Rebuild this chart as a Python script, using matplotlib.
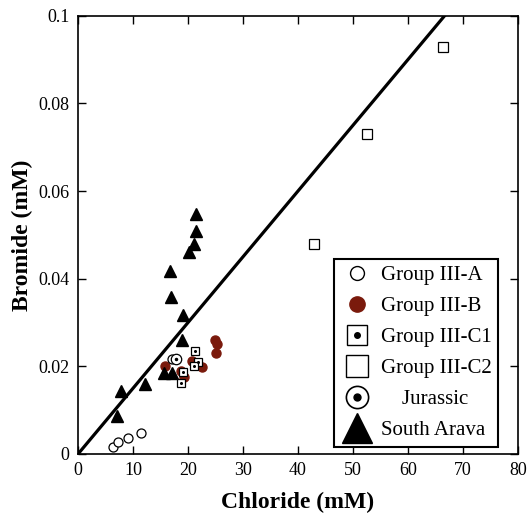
import matplotlib
matplotlib.use("Agg")
import matplotlib.pyplot as plt
from matplotlib.lines import Line2D

plt.rcParams['font.family'] = ['Liberation Serif', 'DejaVu Serif']

# Data (chloride mM, bromide mM)
grpA_x = [6.4, 7.3, 9.0, 11.4, 17.1]
grpA_y = [0.0016, 0.0027, 0.0037, 0.0048, 0.0217]

grpB_x = [24.9, 25.2, 25.1, 15.8, 20.8, 22.5, 18.8, 19.2]
grpB_y = [0.0261, 0.0251, 0.0230, 0.0200, 0.0211, 0.0198, 0.0190, 0.0175]

grpC1_x = [21.3, 21.8, 21.1, 19.0, 18.7]
grpC1_y = [0.0236, 0.0209, 0.0200, 0.0187, 0.0162]

grpC2_x = [42.9, 52.5, 66.4]
grpC2_y = [0.0479, 0.0729, 0.0928]

jur_x = [17.8]
jur_y = [0.0217]

arava_x = [21.4, 21.4, 21.1, 20.2, 16.7, 16.9, 19.0, 18.9, 15.7, 17.0, 12.2, 7.8, 7.0]
arava_y = [0.0547, 0.0509, 0.0479, 0.0460, 0.0418, 0.0359, 0.0317, 0.0259,
           0.0185, 0.0185, 0.0160, 0.0144, 0.0086]

line_x = [0, 80]
seawater_ratio = 0.0015

xticks = [0, 10, 20, 30, 40, 50, 60, 70, 80]
xticklabels = ['0', '10', '20', '30', '40', '50', '60', '70', '80']
yticks = [0, 0.02, 0.04, 0.06, 0.08, 0.1]
yticklabels = ['0', '0.02', '0.04', '0.06', '0.08', '0.1']

red = '#7a1a0c'

fig = plt.figure(figsize=(5.31, 5.16), dpi=100)
ax = fig.add_axes([0.147, 0.1202, 0.8285, 0.8494])

ax.plot(line_x, [v * seawater_ratio for v in line_x], color='black', lw=2.3, zorder=1)

ax.plot(grpA_x, grpA_y, ls='none', marker='o', ms=6.5, mfc='white', mec='black', mew=0.9, zorder=3)
ax.plot(grpB_x, grpB_y, ls='none', marker='o', ms=6.5, mfc=red, mec=red, zorder=2)
ax.plot(grpC1_x, grpC1_y, ls='none', marker='s', ms=5.5, mfc='white', mec='black', mew=0.9, zorder=4)
ax.plot(grpC1_x, grpC1_y, ls='none', marker='o', ms=1.2, mfc='black', mec='black', zorder=5)
ax.plot(grpC2_x, grpC2_y, ls='none', marker='s', ms=7.5, mfc='white', mec='black', mew=0.9, zorder=4)
ax.plot(jur_x, jur_y, ls='none', marker='o', ms=7.5, mfc='white', mec='black', mew=0.9, zorder=4)
ax.plot(jur_x, jur_y, ls='none', marker='o', ms=1.5, mfc='black', mec='black', zorder=5)
ax.plot(arava_x, arava_y, ls='none', marker='^', ms=9, mfc='black', mec='black', zorder=3)

ax.set_xlim(0, 80)
ax.set_ylim(0, 0.1)
ax.set_xticks(xticks)
ax.set_xticklabels(xticklabels)
ax.set_yticks(yticks)
ax.set_yticklabels(yticklabels)
ax.tick_params(direction='in', length=6, width=1, top=True, right=True, labelsize=13, pad=6)
for s in ax.spines.values():
    s.set_linewidth(1.2)

ax.set_xlabel('Chloride (mM)', fontsize=17, fontweight='bold', labelpad=9)
ax.set_ylabel('Bromide (mM)', fontsize=17, fontweight='bold', labelpad=4)

handles = [
    Line2D([], [], ls='none', marker='o', ms=10, mfc='white', mec='black', mew=1.0),
    Line2D([], [], ls='none', marker='o', ms=11, mfc=red, mec=red),
    (Line2D([], [], ls='none', marker='s', ms=15, mfc='white', mec='black', mew=1.0),
     Line2D([], [], ls='none', marker='o', ms=4, mfc='black', mec='black')),
    Line2D([], [], ls='none', marker='s', ms=16, mfc='white', mec='black', mew=1.0),
    (Line2D([], [], ls='none', marker='o', ms=16, mfc='white', mec='black', mew=1.2),
     Line2D([], [], ls='none', marker='o', ms=5, mfc='black', mec='black')),
    Line2D([], [], ls='none', marker='^', ms=21, mfc='black', mec='black'),
]
labels = ['Group III-A', 'Group III-B', 'Group III-C1', 'Group III-C2', '    Jurassic', 'South Arava']
leg = ax.legend(handles, labels, loc='lower left', bbox_to_anchor=(0.582, 0.0166),
                fontsize=15, frameon=True, fancybox=False, edgecolor='black',
                framealpha=1, borderpad=0.3, labelspacing=0.55, handletextpad=0.35,
                handlelength=1.6, borderaxespad=0)
leg.get_frame().set_linewidth(1.5)

fig.savefig('out.png', dpi=100)
